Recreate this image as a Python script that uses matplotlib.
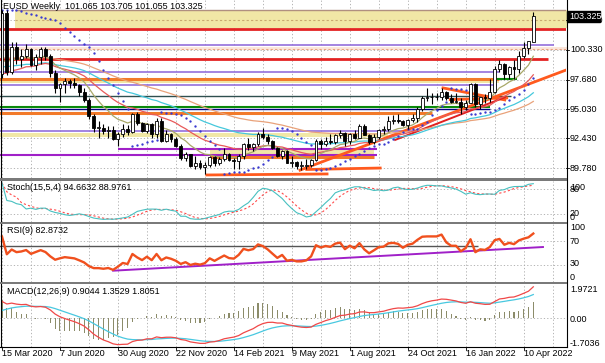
import numpy as np
import pandas as pd
import matplotlib
matplotlib.use("Agg")
import matplotlib.pyplot as plt
from matplotlib.patches import Rectangle

# weekly candles, 15 Mar 2020 .. 24 Apr 2022
opens = [98.2, 103.6, 98.4, 100.6, 99.5, 99.8, 100.4, 99.0, 99.7, 100.4,
         99.8, 98.3, 96.9, 97.3, 97.6, 97.4, 97.2, 96.6, 95.9, 94.4,
         93.4, 93.4, 93.1, 93.2, 92.4, 92.8, 93.3, 93.0, 94.6, 93.8,
         93.1, 93.7, 92.8, 94.0, 92.2, 92.8, 92.4, 91.8, 90.7, 91.0,
         90.0, 90.2, 89.9, 90.1, 90.8, 90.2, 90.6, 91.0, 90.5, 90.4,
         90.9, 91.9, 91.7, 91.9, 92.8, 92.6, 92.2, 91.6, 90.9, 91.3,
         90.2, 90.3, 90.0, 90.0, 90.1, 90.5, 92.2, 91.9, 92.2, 92.1,
         92.7, 92.9, 92.2, 92.8, 92.5, 93.5, 92.7, 92.1, 92.6, 93.2,
         93.3, 94.0, 94.1, 94.0, 93.6, 94.1, 94.3, 95.1, 96.0, 96.1,
         96.1, 96.1, 96.6, 96.0, 95.7, 95.7, 95.2, 95.6, 97.3, 95.5,
         96.1, 96.0, 96.6, 98.6, 99.1, 98.2, 98.8, 98.6, 99.8, 100.5,
         101.065]
highs = [103.9, 103.9, 101.0, 101.0, 100.4, 100.9, 100.5, 100.0, 100.6, 100.6,
         100.0, 98.5, 97.4, 97.8, 97.7, 97.8, 97.3, 96.9, 96.0, 94.6,
         94.0, 93.7, 93.5, 93.5, 93.0, 93.7, 93.6, 94.7, 94.8, 93.9,
         93.8, 93.8, 94.3, 94.3, 93.2, 92.9, 92.6, 91.9, 91.2, 91.0,
         90.9, 90.5, 90.3, 90.9, 90.9, 90.8, 91.6, 91.1, 90.7, 91.0,
         92.0, 92.5, 92.0, 93.0, 93.4, 92.8, 92.3, 91.7, 91.4, 91.4,
         90.9, 90.4, 90.4, 90.6, 90.6, 92.4, 92.4, 92.6, 92.8, 92.8,
         93.2, 93.0, 92.9, 93.2, 93.7, 93.7, 92.8, 92.8, 93.3, 93.5,
         94.4, 94.5, 94.6, 94.1, 94.2, 94.6, 95.2, 96.2, 96.9, 96.5,
         96.5, 96.9, 96.7, 96.4, 96.5, 96.0, 95.9, 97.4, 97.4, 96.1,
         96.4, 97.7, 98.9, 99.4, 99.2, 98.9, 99.4, 100.2, 101.0, 101.1,
         103.705]
lows = [97.8, 98.1, 98.2, 99.1, 98.8, 99.6, 98.9, 98.5, 99.1, 99.4,
        97.9, 96.5, 95.7, 96.5, 96.9, 96.9, 96.2, 95.7, 94.2, 93.0,
        92.5, 92.8, 92.5, 92.3, 91.8, 92.6, 92.7, 92.9, 93.6, 93.0,
        92.9, 92.5, 92.5, 92.1, 92.1, 92.1, 91.7, 90.5, 90.4, 89.9,
        89.7, 89.7, 89.3, 89.9, 90.0, 90.1, 90.4, 90.4, 89.7, 89.7,
        90.6, 91.4, 91.3, 91.8, 92.4, 91.9, 91.5, 90.8, 90.6, 90.2,
        89.9, 89.7, 89.6, 89.7, 89.9, 90.4, 91.5, 91.8, 91.9, 91.9,
        92.5, 91.8, 91.9, 92.4, 92.5, 92.7, 91.9, 91.9, 92.4, 92.8,
        93.1, 93.7, 93.8, 93.5, 93.3, 93.9, 93.9, 94.9, 95.8, 95.5,
        95.9, 95.9, 95.9, 95.6, 95.6, 94.6, 95.0, 95.6, 95.2, 95.1,
        95.6, 95.7, 96.5, 98.4, 97.7, 97.7, 97.7, 98.3, 99.6, 100.0,
        101.055]
closes = [103.6, 98.4, 100.6, 99.5, 99.8, 100.4, 99.0, 99.7, 100.4, 99.8,
          98.3, 96.9, 97.3, 97.6, 97.4, 97.2, 96.6, 95.9, 94.4, 93.4,
          93.4, 93.1, 93.2, 92.4, 92.8, 93.3, 93.0, 94.6, 93.8, 93.1,
          93.7, 92.8, 94.0, 92.2, 92.8, 92.4, 91.8, 90.7, 91.0, 90.0,
          90.2, 89.9, 90.1, 90.8, 90.2, 90.6, 91.0, 90.5, 90.4, 90.9,
          91.9, 91.7, 91.9, 92.8, 92.6, 92.2, 91.6, 90.9, 91.3, 90.2,
          90.3, 90.0, 90.0, 90.1, 90.5, 92.2, 91.9, 92.2, 92.1, 92.7,
          92.9, 92.2, 92.8, 92.5, 93.5, 92.7, 92.1, 92.6, 93.2, 93.3,
          94.0, 94.1, 94.0, 93.6, 94.1, 94.3, 95.1, 96.0, 96.1, 96.1,
          96.1, 96.6, 96.0, 95.7, 95.7, 95.2, 95.6, 97.3, 95.5, 96.1,
          96.0, 96.6, 98.6, 99.1, 98.2, 98.8, 98.6, 99.8, 100.5, 101.1,
          103.325]

date_labels = ["15 Mar 2020", "7 Jun 2020", "30 Aug 2020", "22 Nov 2020", "14 Feb 2021",
               "9 May 2021", "1 Aug 2021", "24 Oct 2021", "16 Jan 2022", "10 Apr 2022"]
label_weeks = [0, 12, 24, 36, 48, 60, 72, 84, 96, 108]
price_ticks = [102.980, 100.330, 97.680, 95.030, 92.430, 89.780]
last_price = 103.325
title = "EUSD Weekly  101.065 103.705 101.055 103.325"

# horizontal levels: price, first week, last week
red_levels = [(102.18, -1, 117), (99.5, -1, 113)]
purple_levels = [(100.78, -1, 114.3), (98.37, -1, 103), (97.2, -1, 102.5), (93.1, -1, 86)]
violet_levels = [(91.5, 24, 77.6), (90.95, -1, 77.6)]
orange_levels = [(97.72, -1, 103), (94.7, -1, 89), (90.8, 43, 77)]
khaki_bands = [(103.9, 102.29, 2.7, 117), (97.7, 97.35, -1, 103), (92.95, 92.6, -1, 80), (91.45, 91.05, 43, 77)]
# trend lines: week0, price0, week1, price1
trend_orange = [(61.7, 89.6, 116.8, 98.54), (42.4, 89.17, 67.3, 89.26), (63.1, 89.66, 78.3, 89.79),
                (91.3, 96.94, 104.1, 95.87), (92.8, 95.9, 104.5, 96.05)]
trend_red = [(81.4, 92.3, 104.1, 96.1)]
rsi_trend = (23.0, 19.5, 112.0, 60.3)
rsi_level = 61.5

W, H = 605, 363
fig = plt.figure(figsize=(W / 100, H / 100), dpi=100)
fig.patch.set_facecolor("white")
font = ["Liberation Sans Narrow", "Liberation Sans", "DejaVu Sans"]
plt.rcParams["font.family"] = font


def px_axes(x0, y0, x1, y1):
    ax = fig.add_axes([x0 / W, 1 - y1 / H, (x1 - x0) / W, (y1 - y0) / H])
    for s in ax.spines.values():
        s.set_visible(False)
    ax.set_xticks([])
    ax.set_yticks([])
    ax.set_xlim((0 - 2) / 4.83, (566 - 2) / 4.83)
    return ax


def ema(values, span, seed):
    a = 2.0 / (span + 1)
    out = []
    e = seed
    for v in values:
        e = e + a * (v - e)
        out.append(e)
    return np.array(out)


def psar(h, l, step=0.02, mx=0.2):
    n = len(h)
    sar = np.zeros(n)
    up = False
    af = step
    ep = l[0]
    sar[0] = h[0]
    for i in range(1, n):
        s = sar[i - 1] + af * (ep - sar[i - 1])
        if up:
            s = min(s, l[i - 1], l[max(i - 2, 0)])
            if l[i] < s:
                up, s, ep, af = False, ep, l[i], step
            elif h[i] > ep:
                ep, af = h[i], min(af + step, mx)
        else:
            s = max(s, h[i - 1], h[max(i - 2, 0)])
            if h[i] > s:
                up, s, ep, af = True, ep, h[i], step
            elif l[i] < ep:
                ep, af = l[i], min(af + step, mx)
        sar[i] = s
    return sar


o = np.array(opens); hi = np.array(highs); lo = np.array(lows); c = np.array(closes)
x = np.arange(len(c))
grid_weeks = np.arange(0, 117, 6)
gkw = dict(color="#a8a8a8", lw=0.6, ls=(0, (1.5, 2.5)), zorder=0)
lab = dict(fontsize=6.5, color="black")

# ---------------- main price panel
ax = px_axes(0, 0, 566, 178)
ax.set_ylim(88.90, 104.79)
for g in grid_weeks:
    ax.axvline(g, **gkw)
for p in price_ticks:
    ax.axhline(p, **gkw)

for top, bot, a, b in khaki_bands:
    ax.fill_between([a, b], bot, top, color="#f1e7a6", lw=0, zorder=1)
ax.hlines(103.9, 2.7, 117, color="#b09080", lw=1.0, zorder=2)
ax.hlines(103.0, 2.7, 117, color="#c8a870", lw=0.8, ls=(0, (2, 2)), zorder=2)
ax.fill_between([-1, 117], 100.32, 100.6, color="#fbe6da", lw=0, zorder=1)
ax.hlines(100.45, -1, 117, color="#e8a080", lw=0.8, ls=(0, (2, 2)), zorder=2)
for p, a, b in red_levels:
    ax.hlines(p, a, b, color="#e32222", lw=2.0, zorder=2)
for p, a, b in purple_levels:
    ax.hlines(p, a, b, color="#9370db", lw=1.2, zorder=2)
for p, a, b in violet_levels:
    ax.hlines(p, a, b, color="#a020c8", lw=1.5, zorder=2)
for p, a, b in orange_levels:
    ax.hlines(p, a, b, color="#f27a2a", lw=2.2, zorder=2)
ax.hlines(96.22, -1, 105.3, color="#2f4f4f", lw=1.0, zorder=2)
ax.hlines(95.27, -1, 101, color="#0a8a0a", lw=1.5, zorder=2)
ax.hlines(95.07, -1, 101, color="#000080", lw=1.0, zorder=2)
ax.hlines(97.74, 102.5, 106.6, color="#0a8a0a", lw=1.5, zorder=2)
for a, p0, b, p1 in trend_orange:
    ax.plot([a, b], [p0, p1], color="#ff5a1e", lw=2.0, zorder=3)
for a, p0, b, p1 in trend_red:
    ax.plot([a, b], [p0, p1], color="#e02020", lw=1.4, zorder=3)

ax.plot(x, ema(c, 60, 99.5), color="#e9a27a", lw=0.9, zorder=3)
ax.plot(x, ema(c, 40, 98.6), color="#45c8dc", lw=0.9, zorder=3)
ax.plot(x, ema(c, 21, 97.7), color="#e85a5a", lw=0.9, zorder=3)
ax.plot(x, ema(c, 10, 98.5), color="#a8a868", lw=0.9, zorder=3)
ax.plot(x, psar(hi, lo), ls="none", marker="o", ms=1.7, mew=0, color="#3a3ad0", zorder=4)

for i in range(len(c)):
    ax.vlines(i, lo[i], hi[i], color="black", lw=0.8, zorder=5)
    bot = min(o[i], c[i])
    hgt = max(abs(c[i] - o[i]), 0.04)
    fc = "white" if c[i] >= o[i] else "black"
    ax.add_patch(Rectangle((i - 0.3, bot), 0.6, hgt, facecolor=fc, edgecolor="black", lw=0.6, zorder=6))

ax.text(3 / 4.83 - 0.4, 104.62, title, fontsize=6.5, va="top", ha="left", zorder=10)

# right price scale
def py(p):
    return 50 + (100.33 - p) * 11.2

for p in price_ticks:
    fig.text(570 / W, 1 - py(p) / H, "%.3f" % p, va="center", ha="left", **lab)
    fig.add_artist(plt.Line2D([566 / W, 569 / W], [1 - py(p) / H] * 2, color="black", lw=0.6))
yb = py(last_price)
fig.add_artist(Rectangle((567 / W, 1 - (yb + 5.5) / H), 33 / W, 11 / H, facecolor="black", edgecolor="black",
                         transform=fig.transFigure, zorder=20))
fig.text(569 / W, 1 - yb / H, "%.3f" % last_price, va="center", ha="left", color="white", fontsize=6.5, zorder=21)

# ---------------- stochastic panel
cs = pd.Series(c); hs = pd.Series(hi); ls_ = pd.Series(lo)
ll = ls_.rolling(15, min_periods=1).min()
hh = hs.rolling(15, min_periods=1).max()
k = 100 * (cs - ll).rolling(5, min_periods=1).sum() / (hh - ll).rolling(5, min_periods=1).sum()
d = k.rolling(4, min_periods=1).mean()
ax2 = px_axes(0, 181, 566, 222)
ax2.set_ylim(0, 100)
for g in grid_weeks:
    ax2.axvline(g, **gkw)
for lv in [20, 80]:
    ax2.axhline(lv, **gkw)
ax2.plot(x, d, color="#ff4a4a", lw=0.8, ls=(0, (2, 2)))
ax2.plot(x, k, color="#48c0c0", lw=0.8)
ax2.text(1.0, 96, "Stoch(15,5,4) 94.6632 88.9761", fontsize=6.5, va="top", ha="left")
for txt, yy in [("100", 187), ("80", 189), ("20", 213), ("0", 218)]:
    fig.text(570 / W, 1 - yy / H, txt, va="center", ha="left", **lab)

# ---------------- RSI panel
diff = np.diff(c, prepend=c[0])
gain = np.where(diff > 0, diff, 0.0)
loss = np.where(diff < 0, -diff, 0.0)
ag, al = 0.9, 0.25
rsi = []
for gv, lv in zip(gain, loss):
    ag = (ag * 8 + gv) / 9
    al = (al * 8 + lv) / 9
    rsi.append(100 - 100 / (1 + ag / al))
ax3 = px_axes(0, 224, 566, 282)
ax3.set_ylim(0, 100)
for g in grid_weeks:
    ax3.axvline(g, **gkw)
for lv in [30, 70]:
    ax3.axhline(lv, **gkw)
ax3.hlines(rsi_level, -1, 98.5, color="#555555", lw=1.0)
ax3.plot([rsi_trend[0], rsi_trend[2]], [rsi_trend[1], rsi_trend[3]], color="#a020c8", lw=1.4)
ax3.plot(x, rsi, color="#f0501e", lw=1.7)
ax3.text(1.0, 96, "RSI(9) 82.8732", fontsize=6.5, va="top", ha="left")
for txt, yy in [("100", 228), ("70", 241), ("30", 264), ("0", 277)]:
    fig.text(570 / W, 1 - yy / H, txt, va="center", ha="left", **lab)

# ---------------- MACD panel
macd = ema(c, 12, 98.6) - ema(c, 26, 98.0)
signal = ema(macd, 9, 0.3)
hist = 2 * (macd - signal)
ax4 = px_axes(0, 284, 566, 347)
ax4.set_ylim(-1.7036, 1.9721)
for g in grid_weeks:
    ax4.axvline(g, **gkw)
ax4.axhline(0, **gkw)
ax4.bar(x, hist, width=0.22, color="#8c8c6a", zorder=2)
ax4.plot(x, signal, color="#48c8e0", lw=0.9, zorder=3)
ax4.plot(x, macd, color="#f04848", lw=0.9, zorder=3)
ax4.text(1.0, 1.80, "MACD(12,26,9) 0.9044 1.3529 1.8051", fontsize=6.5, va="top", ha="left")
for txt, yy in [("1.9721", 289), ("0.00", 319), ("-1.7036", 344)]:
    fig.text(570 / W, 1 - yy / H, txt, va="center", ha="left", **lab)

# dates
for wk, txt in zip(label_weeks, date_labels):
    xp = 2 + 4.83 * wk
    fig.text(xp / W, 1 - 353 / H, txt, va="center", ha="left", **lab)
    fig.add_artist(plt.Line2D([xp / W] * 2, [1 - 347 / H, 1 - 350 / H], color="black", lw=0.6))

# frame and separators
for y0, y1 in [(178, 181), (222, 224), (282, 284)]:
    fig.add_artist(Rectangle((0, 1 - y1 / H), 567 / W, (y1 - y0) / H, facecolor="#7a7a7a",
                             edgecolor="none", transform=fig.transFigure, zorder=15))
fig.add_artist(plt.Line2D([566.5 / W] * 2, [1, 1 - 347 / H], color="black", lw=0.8))
fig.add_artist(plt.Line2D([0, 567 / W], [1 - 347 / H] * 2, color="black", lw=0.8))
fig.add_artist(plt.Line2D([0.5 / W] * 2, [1, 1 - 347 / H], color="black", lw=0.8))

fig.savefig("out.png", dpi=100)
